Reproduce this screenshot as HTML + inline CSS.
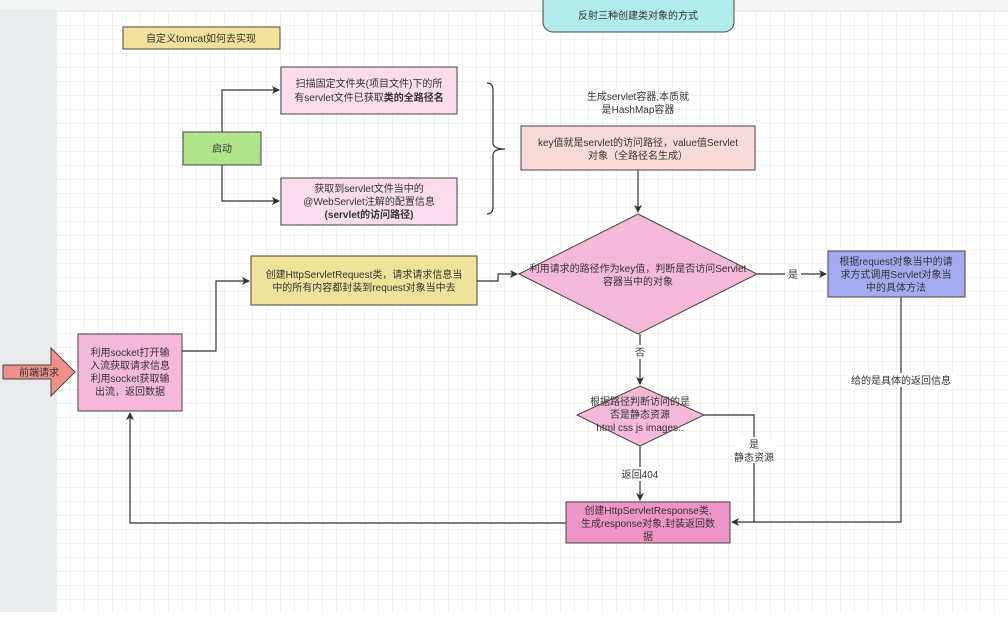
<!DOCTYPE html>
<html><head><meta charset="utf-8"><style>
body{margin:0;width:1008px;height:612px;overflow:hidden;background:#fff;font-family:"Liberation Sans","Noto Sans CJK SC",sans-serif;}
</style></head><body>
<svg width="1008" height="612" xmlns="http://www.w3.org/2000/svg" font-family="Liberation Sans, Noto Sans CJK SC, sans-serif" font-size="10" fill="#333">
<defs>
<pattern id="g" width="14" height="14" patternUnits="userSpaceOnUse" x="56" y="11"><path d="M14 0H0V14" fill="none" stroke="#e6e6e6" stroke-width="1"/></pattern>
<marker id="a" markerWidth="8" markerHeight="8" refX="7" refY="4" orient="auto" markerUnits="userSpaceOnUse"><path d="M0,0 L8,4 L0,8 L2,4z" fill="#333"/></marker>
</defs>
<rect width="1008" height="612" fill="#fff"/>
<rect x="56" y="11" width="952" height="601" fill="url(#g)"/>
<rect x="0" y="0" width="1008" height="11" fill="#f4f5f5"/>
<line x1="0" y1="11" x2="1008" y2="11" stroke="#e2e2e2"/>
<rect x="0" y="11" width="56" height="601" fill="#e8ebec"/>
<rect x="543" y="-10" width="191" height="42" rx="10" fill="#b0ecec" stroke="#444"/>
<text x="638" y="19" text-anchor="middle">反射三种创建类对象的方式</text>
<rect x="123" y="27" width="157" height="22" fill="#f0e29a" stroke="#444"/>
<text x="201" y="42" text-anchor="middle">自定义tomcat如何去实现</text>
<rect x="281" y="67" width="176" height="47" fill="#fadcec" stroke="#444"/>
<text x="369" y="87" text-anchor="middle">扫描固定文件夹(项目文件)下的所</text>
<text x="369" y="101" text-anchor="middle">有servlet文件已获取<tspan font-weight="bold">类的全路径名</tspan></text>
<rect x="183" y="132" width="78" height="33" fill="#b0e38a" stroke="#444"/>
<text x="222" y="152" text-anchor="middle">启动</text>
<rect x="281" y="178" width="176" height="47" fill="#fadcec" stroke="#444"/>
<text x="369" y="192" text-anchor="middle">获取到servlet文件当中的</text>
<text x="369" y="205" text-anchor="middle">@WebServlet注解的配置信息</text>
<text x="369" y="218" text-anchor="middle" font-weight="bold">(servlet的访问路径)</text>
<g fill="none" stroke="#333" stroke-width="1.2">
<path d="M222 132V90H279" marker-end="url(#a)"/>
<path d="M222 165V201H279" marker-end="url(#a)"/>
<path d="M487 83Q493 83 493 90V143Q493 149 505 149Q493 149 493 155V207Q493 214 487 214"/>
<path d="M638 170V212" marker-end="url(#a)"/>
<path d="M477 281H498V274H517" marker-end="url(#a)"/>
<path d="M757 274H826" marker-end="url(#a)"/>
<path d="M182 351H216V281H249" marker-end="url(#a)"/>
<path d="M640 334V384" marker-end="url(#a)"/>
<path d="M640 446V500" marker-end="url(#a)"/>
<path d="M704 415H754V522H732" marker-end="url(#a)"/>
<path d="M901 297V522H754"/>
<path d="M566 523H130V413" marker-end="url(#a)"/>
</g>
<text x="638" y="100" text-anchor="middle">生成servlet容器,本质就</text>
<text x="638" y="113" text-anchor="middle">是HashMap容器</text>
<rect x="521" y="126" width="234" height="44" fill="#f8dbd9" stroke="#444"/>
<text x="638" y="146" text-anchor="middle">key值就是servlet的访问路径，value值Servlet</text>
<text x="638" y="159" text-anchor="middle">对象（全路径名生成）</text>
<path d="M638 214L757 274L638 334L519 274Z" fill="#f4b8d8" stroke="#444"/>
<text x="638" y="272" text-anchor="middle">利用请求的路径作为key值，判断是否访问Servlet</text>
<text x="638" y="285" text-anchor="middle">容器当中的对象</text>
<rect x="785" y="267" width="16" height="14" fill="#fff"/>
<text x="793" y="278" text-anchor="middle">是</text>
<rect x="828" y="251" width="137" height="46" fill="#a3aaf0" stroke="#444"/>
<text x="896" y="265" text-anchor="middle">根据request对象当中的请</text>
<text x="896" y="278" text-anchor="middle">求方式调用Servlet对象当</text>
<text x="896" y="291" text-anchor="middle">中的具体方法</text>
<rect x="251" y="256" width="226" height="49" fill="#efe29b" stroke="#444"/>
<text x="364" y="278" text-anchor="middle">创建HttpServletRequest类，请求请求信息当</text>
<text x="364" y="291" text-anchor="middle">中的所有内容都封装到request对象当中去</text>
<path d="M3 365H51V348L75 372L51 396V379H3Z" fill="#f0908a" stroke="#444"/>
<text x="39" y="376" text-anchor="middle">前端请求</text>
<rect x="78" y="334" width="104" height="77" fill="#f4b8d8" stroke="#444"/>
<text x="130" y="356" text-anchor="middle">利用socket打开输</text>
<text x="130" y="369" text-anchor="middle">入流获取请求信息</text>
<text x="130" y="382" text-anchor="middle">利用socket获取输</text>
<text x="130" y="395" text-anchor="middle">出流，返回数据</text>
<rect x="632" y="345" width="16" height="14" fill="#fff"/>
<text x="640" y="356" text-anchor="middle">否</text>
<path d="M640 386L704 415L640 446L577 415Z" fill="#f4b8d8" stroke="#444"/>
<text x="640" y="405" text-anchor="middle">根据路径判断访问的是</text>
<text x="640" y="418" text-anchor="middle">否是静态资源</text>
<text x="640" y="431" text-anchor="middle">html css js images..</text>
<rect x="735" y="437" width="40" height="26" fill="#fff"/>
<text x="754" y="448" text-anchor="middle">是</text>
<text x="754" y="461" text-anchor="middle">静态资源</text>
<rect x="620" y="467" width="40" height="14" fill="#fff"/>
<text x="640" y="478" text-anchor="middle">返回404</text>
<rect x="846" y="373" width="110" height="14" fill="#fff"/>
<text x="901" y="384" text-anchor="middle">给的是具体的返回信息</text>
<rect x="566" y="502" width="164" height="41" fill="#ef94c6" stroke="#444"/>
<text x="648" y="514" text-anchor="middle">创建HttpServletResponse类,</text>
<text x="648" y="527" text-anchor="middle">生成response对象,封装返回数</text>
<text x="648" y="540" text-anchor="middle">据</text>
</svg>
</body></html>
